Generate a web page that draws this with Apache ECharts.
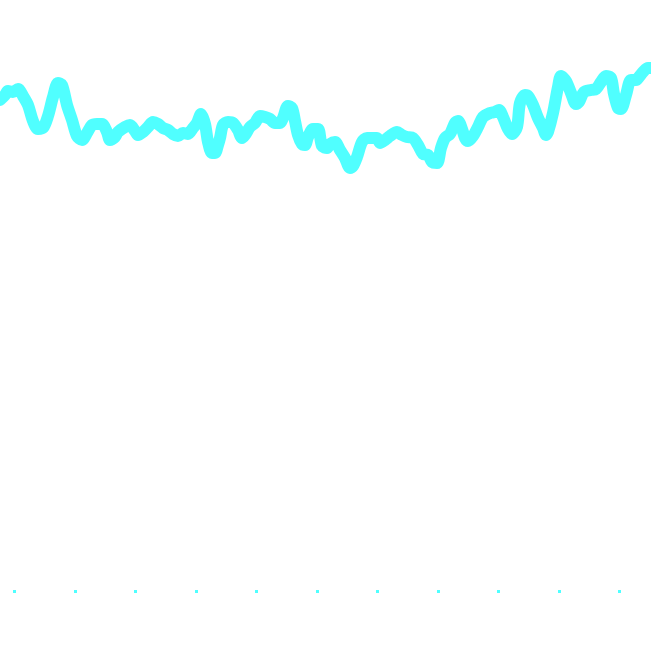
<!DOCTYPE html>
<html>
<head>
<meta charset="utf-8">
<script src="https://cdn.jsdelivr.net/npm/echarts@6/dist/echarts.min.js"></script>
<style>html,body{margin:0;padding:0;background:#ffffff;}#chart{width:651px;height:657px;}</style>
</head>
<body>
<div id="chart"></div>
<script>
// x positions (axis units)
const xValues = [46,51,54,59,64,69,74,79,84,89,94,99,104,108,113,118,123,128,133,138,143,148,153,156,161,164,171,176,181,184,189,194,199,204,209,214,219,224,229,234,239,243,247,251,254,258,261,264,266,269,274,279,284,288,291,296,301,306,311,316,321,326,329,334,338,341,344,348,351,354,359,364,368,373,376,381,386,391,396,399,403,408,413,418,423,426,431,436,443,448,453,459,464,469,474,478,483,487,491,496,501,504,508,511,514,519,524,529,536,541,545,549,554,558,563,566,571,574,579,584,589,592,594,599,604,607,612,617,622,625,630,637,642,647,652,657,660,664,667,672,677,682,685,689,694,697];
// line values (axis units)
const yValues = [490,495,499,498,501,494,485,469,461,462,474,493,507,505,485,470,454,450,457,465,466,466,458,450,453,458,463,465,459,455,458,463,468,466,462,460,456,454,457,456,462,467,476,466,448,437,437,445,452,465,468,467,460,452,455,463,467,474,473,471,467,467,472,484,482,469,455,446,445,453,461,461,444,442,446,448,440,432,422,424,433,448,452,452,452,447,450,454,458,455,453,452,445,436,435,428,427,442,452,456,467,469,461,452,449,454,463,473,477,478,480,473,461,456,463,487,495,494,485,472,462,455,458,477,503,514,509,497,486,488,498,500,501,508,514,512,496,482,481,495,510,510,513,518,522,522];
// x-axis tick spacing (axis units)
const xTickStep = [60.5];

const chart = echarts.init(document.getElementById('chart'), null, {renderer: 'canvas'});
const seriesData = xValues.map((x, i) => [x, yValues[i]]);
chart.setOption({
  backgroundColor: '#ffffff',
  animation: false,
  grid: {left: -46, width: 720, top: 60, height: 530, containLabel: false, outerBoundsMode: 'none'},
  xAxis: {
    type: 'value', min: 0, max: 720, interval: xTickStep[0],
    axisLine: {show: false},
    axisTick: {show: true, length: 3, lineStyle: {color: '#50ffff', width: 3}},
    axisLabel: {show: false},
    splitLine: {show: false}
  },
  yAxis: {
    type: 'value', min: 0, max: 530,
    axisLine: {show: false}, axisTick: {show: false},
    axisLabel: {show: false}, splitLine: {show: false}
  },
  series: [{
    type: 'line',
    data: seriesData,
    symbol: 'none',
    smooth: 0.3,
    lineStyle: {color: '#50ffff', width: 12, cap: 'round', join: 'round'},
    clip: true
  }]
});
</script>
</body>
</html>
